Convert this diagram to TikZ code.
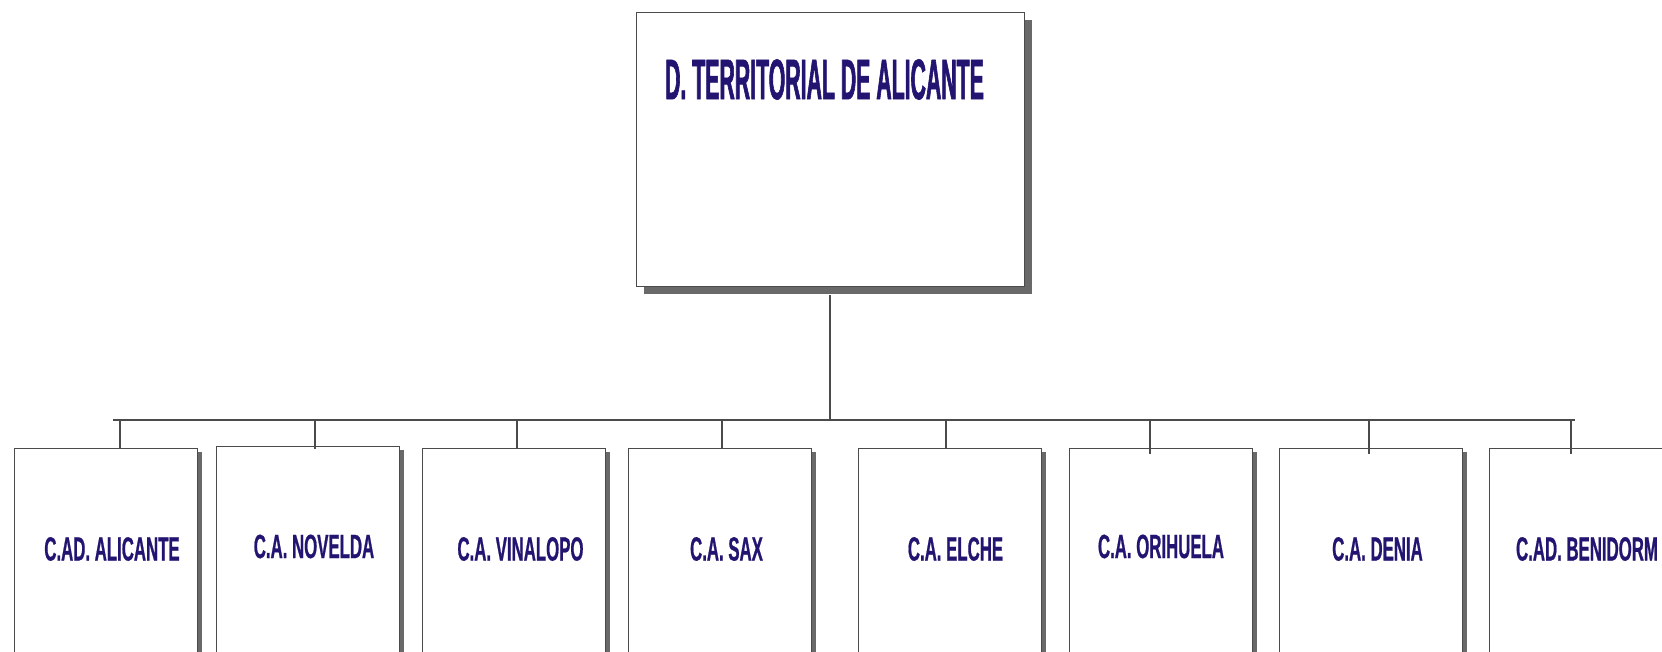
\documentclass[tikz,border=0pt]{standalone}
\usepackage{fontspec}
\setmainfont{Liberation Sans}
\newfontfamily\titlefont[FakeStretch=0.372,FakeBold=1.0]{Liberation Sans}
\newfontfamily\labfont[FakeStretch=0.5,FakeBold=0.6]{Liberation Sans}
\usetikzlibrary{shadows}
\definecolor{ink}{RGB}{34,20,112}
\definecolor{shade}{RGB}{105,105,105}
\definecolor{edge}{RGB}{75,75,75}
\begin{document}
\begin{tikzpicture}[x=0.5pt,y=-0.5pt,
  conn/.style={draw=edge,line width=0.55pt},
  topbox/.style={draw=edge,line width=0.6pt,fill=white,rectangle,inner sep=0pt,anchor=north west,
    minimum width=194pt,minimum height=137pt,
    drop shadow={shadow xshift=3.5pt,shadow yshift=-3.5pt,fill=shade,opacity=1}},
  orgbox/.style={draw=edge,line width=0.6pt,fill=white,rectangle,inner sep=0pt,anchor=north west,
    minimum width=91.5pt,minimum height=140pt,
    drop shadow={shadow xshift=2pt,shadow yshift=-1.5pt,fill=shade,opacity=1}},
  titletext/.style={text=ink,inner sep=0pt,font=\titlefont\bfseries\fontsize{28.6}{30}\selectfont},
  labtext/.style={text=ink,inner sep=0pt,font=\labfont\bfseries\fontsize{16.8}{18}\selectfont}]
\clip (0,0) rectangle (1662,652);
\fill[white] (0,0) rectangle (1662,652);
% top box
\node[topbox] (top) at (636,12) {};
\node[titletext] (toptext) at (824.5,79.5) {D. TERRITORIAL DE ALICANTE};
% bottom boxes
\node[orgbox] (b1) at (14,448) {};
\node[orgbox] (b2) at (216,446) {};
\node[orgbox] (b3) at (422,448) {};
\node[orgbox] (b4) at (628,448) {};
\node[orgbox] (b5) at (858,448) {};
\node[orgbox] (b6) at (1069,448) {};
\node[orgbox] (b7) at (1279,448) {};
\node[orgbox] (b8) at (1489,448) {};
\node[labtext] (l1) at (112,549) {C.AD. ALICANTE};
\node[labtext] (l2) at (314,546.5) {C.A. NOVELDA};
\node[labtext] (l3) at (520.5,549) {C.A. VINALOPO};
\node[labtext] (l4) at (726.5,549) {C.A. SAX};
\node[labtext] (l5) at (955.5,549) {C.A. ELCHE};
\node[labtext] (l6) at (1161,546.5) {C.A. ORIHUELA};
\node[labtext] (l7) at (1377.5,549) {C.A. DENIA};
\node[labtext] (l8) at (1587,549) {C.AD. BENIDORM};
% bus
\coordinate (busL) at (113,420);
\coordinate (busR) at (1575,420);
\coordinate (busM) at (830,420);
\coordinate (j1) at (120,420);
\coordinate (j2) at (315,420);
\coordinate (j3) at (517,420);
\coordinate (j4) at (722,420);
\coordinate (j5) at (946,420);
\coordinate (j6) at (1150,420);
\coordinate (j7) at (1369,420);
\coordinate (j8) at (1571,420);
\draw[conn] (busM |- top.south) ++(0,8) -- (busM);
\draw[conn] (busL) -- (busR);
\draw[conn] (j1) -- (j1 |- b1.north);
\draw[conn] (j2) -- (j2 |- b2.north) -- ++(0,3);
\draw[conn] (j3) -- (j3 |- b3.north);
\draw[conn] (j4) -- (j4 |- b4.north);
\draw[conn] (j5) -- (j5 |- b5.north);
\draw[conn] (j6) -- (j6 |- b6.north) -- ++(0,6);
\draw[conn] (j7) -- (j7 |- b7.north) -- ++(0,6);
\draw[conn] (j8) -- (j8 |- b8.north) -- ++(0,6);
\end{tikzpicture}
\end{document}
